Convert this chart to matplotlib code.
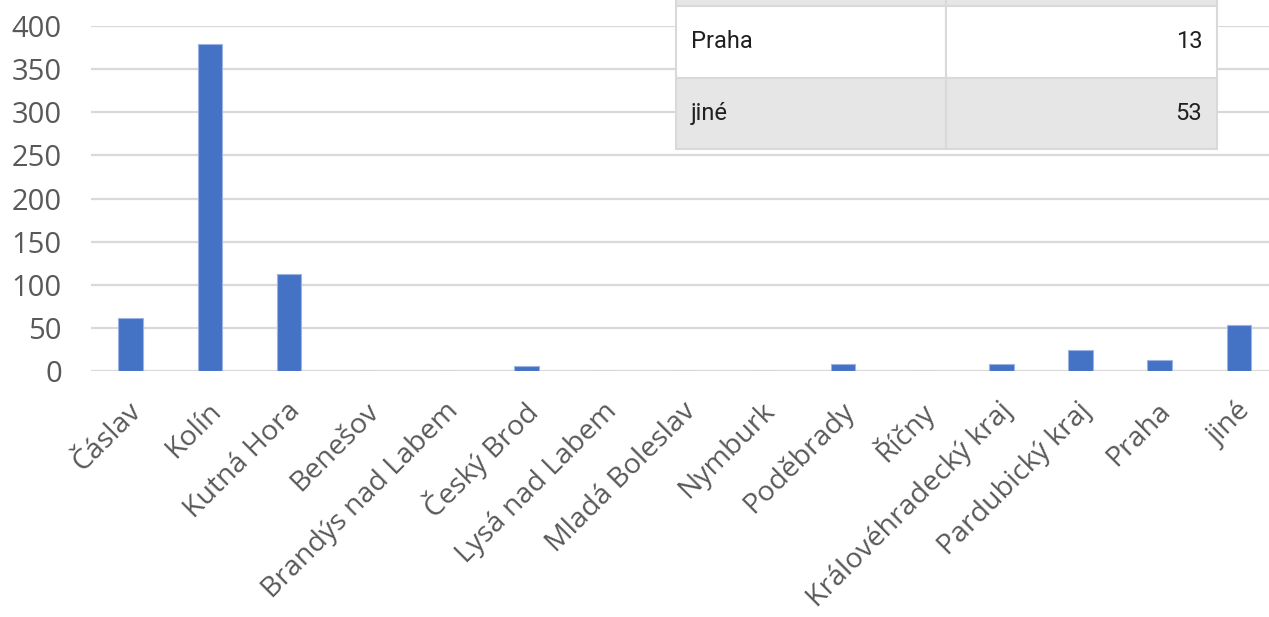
import matplotlib
matplotlib.use("Agg")
import matplotlib.pyplot as plt
from matplotlib.transforms import ScaledTranslation
from matplotlib.table import Table

categories = ["Čáslav", "Kolín", "Kutná Hora", "Benešov", "Brandýs nad Labem",
              "Český Brod", "Lysá nad Labem", "Mladá Boleslav", "Nymburk",
              "Poděbrady", "Říčny", "Královéhradecký kraj", "Pardubický kraj",
              "Praha", "jiné"]
values = [62, 379, 112, 0, 0, 6, 0, 0, 0, 8, 0, 8, 24, 13, 53]
yticks = [0, 50, 100, 150, 200, 250, 300, 350, 400]

table_labels = ["Pardubický kraj", "Praha", "jiné"]
table_values = [24, 13, 53]

W, H = 1269, 617
fig = plt.figure(figsize=(W / 100, H / 100), dpi=100)
ax = fig.add_axes([91.1 / W, (H - 371) / H, 1187.4 / W, 345 / H])

x = list(range(len(categories)))
ax.bar(x, values, width=0.31, color="#4472C4", edgecolor="#9db4e3",
       linewidth=0.8, zorder=3)
ax.set_xlim(-0.5, len(categories) - 0.5)
ax.set_ylim(0, 400)
ax.set_yticks(yticks)
ax.set_yticklabels([str(v) for v in yticks])
ax.grid(axis="y", color="#d9d9d9", linewidth=1.6, zorder=0)
ax.set_axisbelow(True)
for s in ax.spines.values():
    s.set_visible(False)
ax.tick_params(axis="both", length=0, colors="#595959")
ax.tick_params(axis="y", pad=21)
for lab in ax.get_yticklabels():
    lab.set_fontfamily("Open Sans")
    lab.set_fontsize(21)
    lab.set_color("#595959")

ax.set_xticks(x)
ax.set_xticklabels(categories, rotation=45, ha="right", va="center",
                   rotation_mode="anchor", fontfamily="Open Sans",
                   fontsize=20.5, color="#595959")
ax.tick_params(axis="x", pad=0)
off = ScaledTranslation(7 / 100, -36 / 100, fig.dpi_scale_trans)
for lab in ax.get_xticklabels():
    lab.set_transform(lab.get_transform() + off)

# table overlay
tax = fig.add_axes([0, 0, 1, 1])
tax.set_axis_off()
tax.set_xlim(0, 1)
tax.set_ylim(0, 1)
row_h = 71.5
left, right, mid = 676, 1217, 946
bottom = H - 149
top = bottom + row_h * len(table_labels)
tbl = Table(tax, bbox=[left / W, bottom / H, (right - left) / W, (top - bottom) / H])
w1 = (mid - left) / (right - left)
w2 = 1 - w1
n = len(table_labels)
for i, (lab, val) in enumerate(zip(table_labels, table_values)):
    bg = "#e6e6e6" if i % 2 == 0 else "#ffffff"
    c1 = tbl.add_cell(i, 0, w1, 1 / n, text=lab, loc="left", facecolor=bg,
                      edgecolor="#d9d9d9")
    c2 = tbl.add_cell(i, 1, w2, 1 / n, text=str(val), loc="right", facecolor=bg,
                      edgecolor="#d9d9d9")
    for c in (c1, c2):
        c.set_linewidth(1.5)
        c.PAD = 0.055
        c.get_text().set_fontfamily("Roboto")
        c.get_text().set_fontsize(17)
        c.get_text().set_color("#202020")
tbl.auto_set_font_size(False)
tbl.set_clip_on(False)
tax.add_table(tbl)

fig.savefig("out.png", dpi=100)
